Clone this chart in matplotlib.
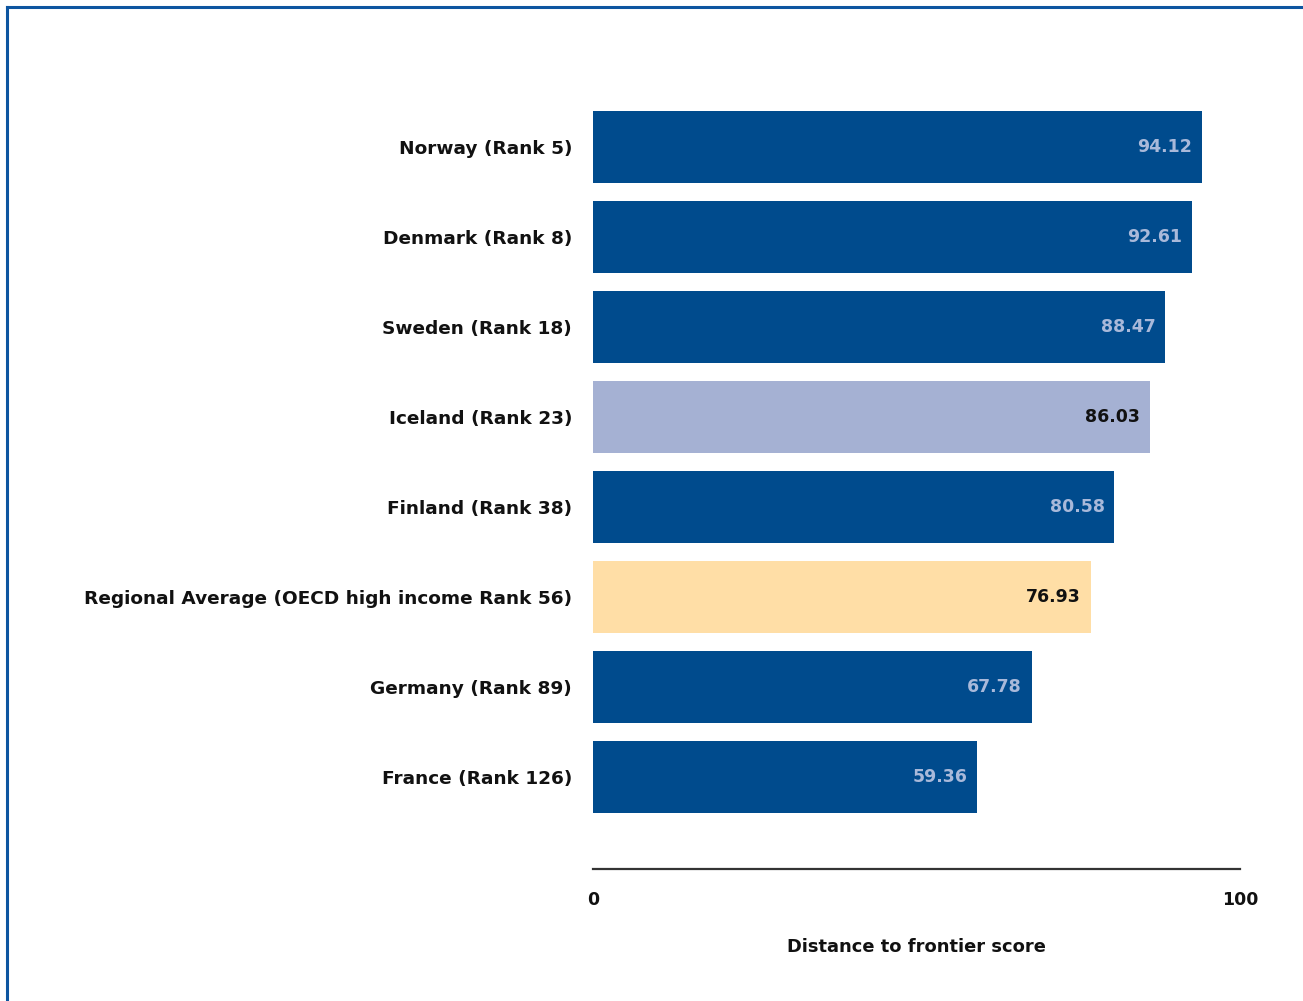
import matplotlib.pyplot as plt
from matplotlib.lines import Line2D

countries = ['Norway (Rank 5)', 'Denmark (Rank 8)', 'Sweden (Rank 18)',
             'Iceland (Rank 23)', 'Finland (Rank 38)',
             'Regional Average (OECD high income Rank 56)',
             'Germany (Rank 89)', 'France (Rank 126)']
scores = [94.12, 92.61, 88.47, 86.03, 80.58, 76.93, 67.78, 59.36]
bar_colors = ['#004b8d', '#004b8d', '#004b8d', '#a5b1d3', '#004b8d',
              '#ffdea6', '#004b8d', '#004b8d']
label_colors = ['#a9b9da', '#a9b9da', '#a9b9da', '#111111', '#a9b9da',
                '#111111', '#a9b9da', '#a9b9da']

W, H = 1303, 1001
fig = plt.figure(figsize=(W / 100, H / 100), dpi=100)
ax = fig.add_axes([593 / W, 1 - 869 / H, (1240 - 593) / W, (869 - 102) / H])

y = range(len(countries))
ax.barh(y, scores, height=0.8, color=bar_colors)
for i, (v, c) in enumerate(zip(scores, label_colors)):
    ax.annotate(f'{v:.2f}', (v, i), xytext=(-7, 0), textcoords='offset points',
                ha='right', va='center', color=c, fontsize=12.5, fontweight='bold')

ax.set_xlim(0, 100)
ax.set_ylim(7 + 92 / 90, -0.5)
ax.set_yticks(list(y))
ax.set_yticklabels(countries, fontsize=13.3, fontweight='bold', color='#111111')
ax.set_xticks([0, 100])
ax.set_xticklabels(['0', '100'], fontsize=12.5, fontweight='bold', color='#111111')
ax.tick_params(axis='y', length=0, pad=15)
ax.tick_params(axis='x', length=0, pad=16)
for s in ['top', 'right', 'left']:
    ax.spines[s].set_visible(False)
ax.spines['bottom'].set_color('#333333')
ax.spines['bottom'].set_linewidth(1.6)
ax.set_xlabel('Distance to frontier score', fontsize=12.9, fontweight='bold',
              color='#111111', labelpad=21)

# frame along the top and left edges
fig.add_artist(Line2D([7 / W, 7 / W], [0, 1 - 7 / H], color='#0d55a0', lw=2.2))
fig.add_artist(Line2D([7 / W, 1], [1 - 7 / H, 1 - 7 / H], color='#0d55a0', lw=2.2))

fig.savefig('out.png', dpi=100)
